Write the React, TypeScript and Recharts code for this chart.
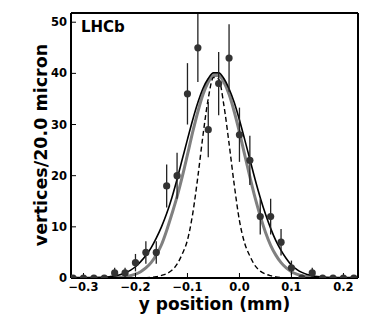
import React from 'react'
import { ComposedChart, Line, Scatter, ErrorBar, XAxis, YAxis } from 'recharts'

// histogram of vertex y positions, 20 micron bins
const binCenters = [
  -0.32, -0.3, -0.28, -0.26, -0.24, -0.22, -0.2, -0.18, -0.16, -0.14, -0.12, -0.1, -0.08, -0.06,
  -0.04, -0.02, 0, 0.02, 0.04, 0.06, 0.08, 0.1, 0.12, 0.14, 0.16, 0.18, 0.2, 0.22,
]
const vertexCounts = [0, 0, 0, 0, 1, 1, 3, 5, 5, 18, 20, 36, 45, 29, 38, 43, 28, 23, 12, 12, 7, 2, 0, 1, 0, 0, 0, 0]
const countErrors = [0, 0, 0, 0, 1, 1, 1.7, 2.2, 2.2, 4.2, 4.5, 6, 6.7, 5.4, 6.2, 6.6, 5.3, 4.8, 3.5, 3.5, 2.6, 1.4, 0, 1, 0, 0, 0, 0]

const curveX = [
  -0.32, -0.31, -0.3, -0.29, -0.28, -0.27, -0.26, -0.25, -0.24, -0.23,
  -0.22, -0.21, -0.2, -0.19, -0.18, -0.17, -0.16, -0.15, -0.14, -0.13,
  -0.12, -0.11, -0.1, -0.09, -0.08, -0.07, -0.06, -0.05, -0.04, -0.03,
  -0.02, -0.01, 0, 0.01, 0.02, 0.03, 0.04, 0.05, 0.06, 0.07,
  0.08, 0.09, 0.1, 0.11, 0.12, 0.13, 0.14, 0.15, 0.16, 0.17,
  0.18, 0.19, 0.2, 0.21, 0.22,
]
const totalFit = [
  0, 0, 0.01, 0.02, 0.04, 0.08, 0.14, 0.25, 0.4, 0.65,
  1.0, 1.5, 2.2, 3.2, 4.4, 5.9, 7.8, 10.0, 12.6, 15.7,
  19.3, 23.2, 27.1, 30.9, 34.3, 37.1, 39.0, 40.1, 40.1, 39.0,
  37.0, 34.3, 30.9, 27.1, 23.2, 19.3, 15.7, 12.5, 9.7, 7.3,
  5.4, 3.8, 2.5, 1.7, 1.1, 0.7, 0.45, 0.28, 0.16, 0.09,
  0.05, 0.02, 0.01, 0, 0,
]
const resolutionFit = [
  0, 0, 0, 0, 0, 0.01, 0.02, 0.04, 0.07, 0.14,
  0.25, 0.44, 0.75, 1.23, 1.96, 3.0, 4.5, 6.5, 9.3, 12.5,
  15.9, 19.8, 24.1, 28.5, 32.5, 35.9, 38.3, 39.6, 39.6, 38.3,
  35.9, 32.5, 28.5, 24.1, 19.8, 15.7, 12.1, 8.96, 6.4, 4.47,
  3.0, 1.96, 1.23, 0.75, 0.44, 0.25, 0.14, 0.07, 0.04, 0.02,
  0, 0, 0, 0, 0,
]
const beamFit = [
  0, 0, 0, 0, 0, 0, 0, 0, 0, 0,
  0, 0, 0, 0, 0.05, 0.12, 0.25, 0.5, 0.85, 1.5,
  2.7, 4.7, 7.4, 12.5, 19.8, 28.0, 35.1, 39.2, 38.9, 33.8,
  26.3, 18.2, 11.2, 6.8, 4.3, 2.4, 1.35, 0.78, 0.45, 0.22,
  0.1, 0.05, 0, 0, 0, 0, 0, 0, 0, 0,
  0, 0, 0, 0, 0,
]

const xTicks = [-0.3, -0.2, -0.1, 0, 0.1, 0.2]
const yTicks = [0, 10, 20, 30, 40, 50]

const curveRows = curveX.map((x, i) => ({
  x,
  total: totalFit[i],
  resolution: resolutionFit[i],
  beam: beamFit[i],
}))
const pointRows = binCenters.map((x, i) => ({ x, n: vertexCounts[i], err: countErrors[i] }))

const font = 'DejaVu Sans, Verdana, sans-serif'
const tickStyle = { fill: '#000', fontSize: 11.5, fontWeight: 'bold', fontFamily: font }
const frame = { stroke: '#000', strokeWidth: 2 }

const fmtX = (v: number) => (v < 0 ? '\u2212' + Math.abs(v).toFixed(1) : Math.abs(v).toFixed(1))

const Dot = (props: any) => <circle cx={props.cx} cy={props.cy} r={3.6} fill="#333" />

export default function App() {
  return (
    <div style={{ position: 'absolute', left: 0, top: 0, width: 373, height: 317, background: '#fff' }}>
      <ComposedChart
        width={373}
        height={317}
        data={curveRows}
        margin={{ top: 0, right: 0, bottom: 0, left: 0 }}
      >
        <XAxis
          xAxisId="bottom"
          dataKey="x"
          type="number"
          domain={[-0.324, 0.228]}
          ticks={xTicks}
          allowDataOverflow
          height={39}
          tickSize={-5}
          tickMargin={9.5}
          tickFormatter={fmtX}
          tick={tickStyle}
          axisLine={frame}
          tickLine={{ stroke: '#000', strokeWidth: 1 }}
        />
        <XAxis
          xAxisId="top"
          orientation="top"
          dataKey="x"
          type="number"
          domain={[-0.324, 0.228]}
          ticks={xTicks}
          allowDataOverflow
          height={13}
          tickSize={-5}
          tick={false}
          axisLine={frame}
          tickLine={{ stroke: '#000', strokeWidth: 1 }}
        />
        <YAxis
          yAxisId="left"
          type="number"
          domain={[0, 51.8]}
          ticks={yTicks}
          allowDataOverflow
          width={71}
          tickSize={-5}
          tickMargin={9}
          tick={tickStyle}
          axisLine={frame}
          tickLine={{ stroke: '#000', strokeWidth: 1 }}
        />
        <YAxis
          yAxisId="right"
          orientation="right"
          type="number"
          domain={[0, 51.8]}
          ticks={yTicks}
          allowDataOverflow
          width={15}
          tickSize={-5}
          tick={false}
          axisLine={frame}
          tickLine={{ stroke: '#000', strokeWidth: 1 }}
        />
        <Line
          xAxisId="bottom"
          yAxisId="left"
          type="monotone"
          dataKey="resolution"
          stroke="#808080"
          strokeWidth={3}
          dot={false}
          isAnimationActive={false}
        />
        <Line
          xAxisId="bottom"
          yAxisId="left"
          type="monotone"
          dataKey="total"
          stroke="#000"
          strokeWidth={1.6}
          dot={false}
          isAnimationActive={false}
        />
        <Line
          xAxisId="bottom"
          yAxisId="left"
          type="monotone"
          dataKey="beam"
          stroke="#000"
          strokeWidth={1.4}
          strokeDasharray="5 3"
          dot={false}
          isAnimationActive={false}
        />
        <Scatter
          xAxisId="bottom"
          yAxisId="left"
          data={pointRows}
          dataKey="n"
          shape={Dot}
          isAnimationActive={false}
        >
          <ErrorBar dataKey="err" direction="y" width={0} stroke="#222" strokeWidth={1.3} />
        </Scatter>
      </ComposedChart>
      <svg
        width={373}
        height={317}
        style={{ position: 'absolute', left: 0, top: 0, pointerEvents: 'none' }}
      >
        <text x={81} y={31.5} fontSize={15} fontWeight="bold" fontFamily={font} fill="#000">
          LHCb
        </text>
        <text x={214.5} y={310} fontSize={17} fontWeight="bold" fontFamily={font} fill="#000" textAnchor="middle">
          y position (mm)
        </text>
        <text
          x={47}
          y={145}
          transform="rotate(-90 47 145)"
          fontSize={17.5}
          fontWeight="bold"
          fontFamily={font}
          fill="#000"
          textAnchor="middle"
        >
          vertices/20.0 micron
        </text>
      </svg>
    </div>
  )
}
